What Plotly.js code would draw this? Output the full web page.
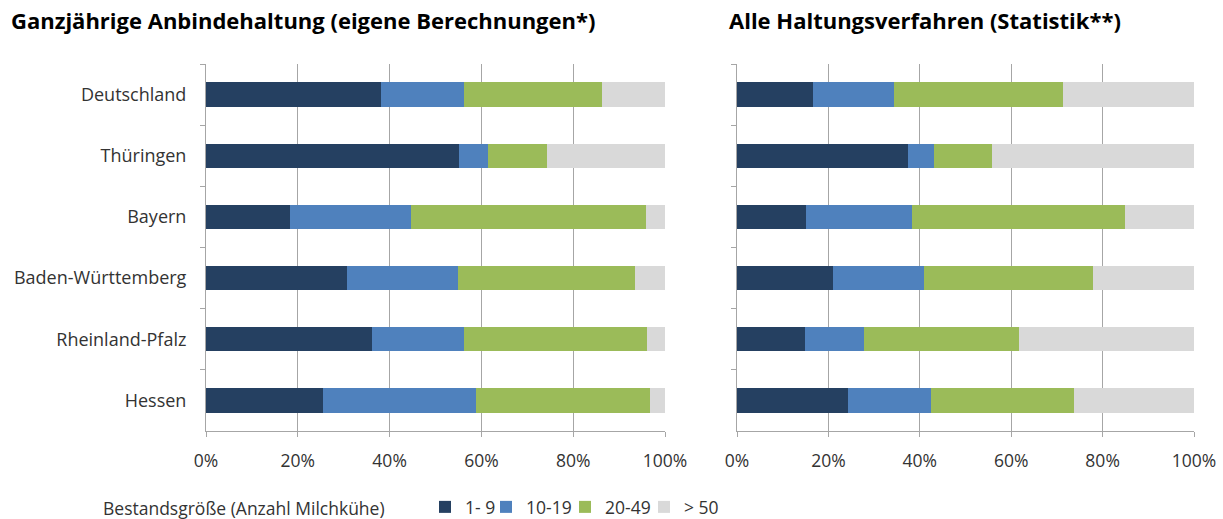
<!DOCTYPE html>
<html>
<head>
<meta charset="utf-8">
<script src="https://cdn.plot.ly/plotly-3.0.1.min.js"></script>
<style>html,body{margin:0;padding:0;background:#fff}#chart{width:1223px;height:519px}</style>
</head>
<body>
<div id="chart"></div>
<script>
// Categories (top to bottom)
const regions = ["Deutschland", "Thüringen", "Bayern", "Baden-Württemberg", "Rheinland-Pfalz", "Hessen"];
const sizeClasses = ["1- 9", "10-19", "20-49", "> 50"];
const classColors = ["#254061", "#4F81BD", "#9BBB59", "#D9D9D9"];

// Left: Ganzjährige Anbindehaltung (eigene Berechnungen*), shares in %
const anbind_1_9   = [38.2, 55.1, 18.4, 30.7, 36.1, 25.4];
const anbind_10_19 = [17.9,  6.4, 26.3, 24.2, 20.2, 33.4];
const anbind_20_49 = [30.2, 12.7, 51.1, 38.5, 39.8, 38.0];
const anbind_50    = [13.7, 25.8,  4.2,  6.6,  3.9,  3.2];

// Right: Alle Haltungsverfahren (Statistik**), shares in %
const alle_1_9   = [16.6, 37.5, 15.2, 20.9, 14.9, 24.2];
const alle_10_19 = [17.7,  5.6, 23.2, 20.0, 12.9, 18.3];
const alle_20_49 = [37.0, 12.7, 46.5, 36.9, 34.0, 31.2];
const alle_50    = [28.7, 44.2, 15.1, 22.2, 38.2, 26.3];

const titleLeft = "Ganzjährige Anbindehaltung (eigene Berechnungen*)";
const titleRight = "Alle Haltungsverfahren (Statistik**)";
const legendTitle = "Bestandsgröße (Anzahl Milchkühe)";
const xTickVals = [0, 20, 40, 60, 80, 100];
const xTickText = ["0%", "20%", "40%", "60%", "80%", "100%"];

const leftSeries = [anbind_1_9, anbind_10_19, anbind_20_49, anbind_50];
const rightSeries = [alle_1_9, alle_10_19, alle_20_49, alle_50];

const FONT = "Open Sans, Noto Sans, sans-serif";
const TXT = "#333333";
const legendIds = ["legend", "legend2", "legend3", "legend4"];
const legendX = [425, 486, 565, 644];

const traces = [];
leftSeries.forEach((vals, i) => {
  traces.push({
    type: "bar", orientation: "h", x: vals, y: regions,
    name: sizeClasses[i], marker: {color: classColors[i]},
    xaxis: "x", yaxis: "y", legend: legendIds[i], showlegend: true
  });
});
rightSeries.forEach((vals, i) => {
  traces.push({
    type: "bar", orientation: "h", x: vals, y: regions,
    name: sizeClasses[i], marker: {color: classColors[i]},
    xaxis: "x2", yaxis: "y2", showlegend: false
  });
});

const gridCol = "#A6A6A6";
const xBase = {
  range: [0, 100], tickvals: xTickVals, ticktext: xTickText,
  showgrid: true, gridcolor: gridCol, gridwidth: 1,
  showline: true, linecolor: gridCol, linewidth: 1,
  ticks: "outside", ticklen: 5, tickcolor: gridCol, ticklabelstandoff: 9,
  tickfont: {family: FONT, size: 17.5, color: TXT}, zeroline: false, fixedrange: true
};
const yBase = {
  categoryorder: "array", categoryarray: regions, autorange: "reversed",
  showline: true, linecolor: gridCol, linewidth: 1,
  ticks: "outside", ticklen: 5, tickcolor: gridCol, tickson: "boundaries",
  showgrid: false, zeroline: false, fixedrange: true,
  tickfont: {family: FONT, size: 18, color: TXT}
};

function legendAt(px) {
  return {
    orientation: "h", x: px / 1223, xanchor: "left", y: 12 / 519, yanchor: "middle",
    font: {family: FONT, size: 17.5, color: TXT}, itemwidth: 30, bgcolor: "rgba(0,0,0,0)"
  };
}

const layout = {
  width: 1223, height: 519,
  margin: {l: 0, r: 0, t: 0, b: 0, autoexpand: false},
  paper_bgcolor: "#fff", plot_bgcolor: "#fff",
  barmode: "stack", bargap: 0.6,
  font: {family: FONT, color: TXT},
  xaxis: Object.assign({}, xBase, {domain: [206/1223, 665/1223], anchor: "y"}),
  yaxis: Object.assign({}, yBase, {domain: [88/519, 455/519], anchor: "x", ticklabelstandoff: 15}),
  xaxis2: Object.assign({}, xBase, {domain: [737/1223, 1194/1223], anchor: "y2"}),
  yaxis2: Object.assign({}, yBase, {domain: [88/519, 455/519], anchor: "x2", showticklabels: false}),
  showlegend: true,
  legend: legendAt(legendX[0]),
  legend2: legendAt(legendX[1]),
  legend3: legendAt(legendX[2]),
  legend4: legendAt(legendX[3]),
  annotations: [
    {text: "<b>" + titleLeft + "</b>", xref: "paper", yref: "paper", x: 9/1223, y: 1 - 20/519,
     xanchor: "left", yanchor: "middle", showarrow: false, font: {family: FONT, size: 22, color: "#000"}},
    {text: "<b>" + titleRight + "</b>", xref: "paper", yref: "paper", x: 727/1223, y: 1 - 20/519,
     xanchor: "left", yanchor: "middle", showarrow: false, font: {family: FONT, size: 22, color: "#000"}},
    {text: legendTitle, xref: "paper", yref: "paper", x: 101/1223, y: 11/519,
     xanchor: "left", yanchor: "middle", showarrow: false, font: {family: FONT, size: 17.5, color: TXT}}
  ]
};

Plotly.newPlot("chart", traces, layout, {displayModeBar: false, staticPlot: true});
</script>
</body>
</html>
